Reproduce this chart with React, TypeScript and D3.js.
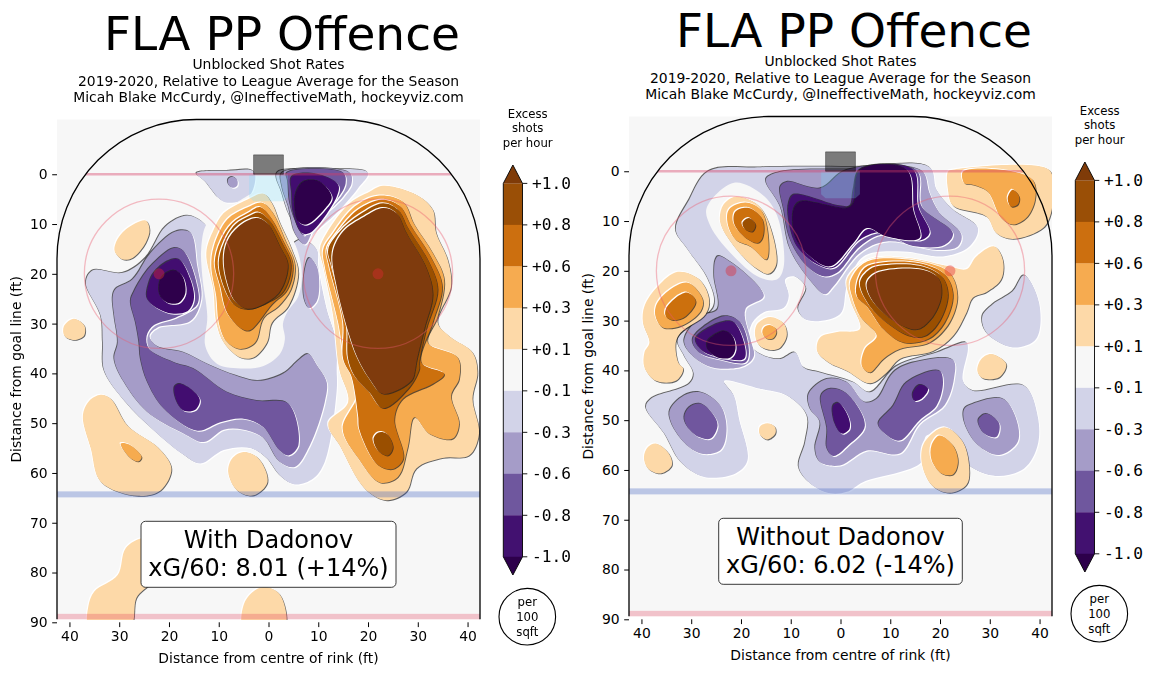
import React, { useEffect, useRef } from 'react';
import * as d3 from 'd3';

type Pt = [number, number];

// colour per contour band, low to high
const bandColors: Record<string, string> = {
  m5: '#2d004b',
  m4: '#421170',
  m3: '#6f579e',
  m2: '#a59cc8',
  m1: '#d2d3e8',
  zero: '#f7f7f7',
  p1: '#fdd9a8',
  p2: '#f6ab50',
  p3: '#cc6f0f',
  p4: '#9a4f06',
  p5: '#7f3b08',
};

const barBands = ['p4', 'p3', 'p2', 'p1', 'zero', 'm1', 'm2', 'm3', 'm4'];
const barLabels = ['+1.0', '+0.8', '+0.6', '+0.3', '+0.1', '-0.1', '-0.3', '-0.6', '-0.8', '-1.0'];
const yTicks = [0, 10, 20, 30, 40, 50, 60, 70, 80, 90];
const xTicks = [-40, -30, -20, -10, 0, 10, 20, 30, 40];
const subtitleLines = [
  'Unblocked Shot Rates',
  '2019-2020, Relative to League Average for the Season',
  'Micah Blake McCurdy, @IneffectiveMath, hockeyviz.com',
];

// rink furniture, in feet
const crease: Pt[] = [[-3.9, 0], [3.9, 0], [3.9, 4.6], [3, 5.4], [-3, 5.4], [-3.9, 4.6]];
const goalBox: Pt[] = [[-3, -3.9], [3, -3.9], [3, 0], [-3, 0]];
const faceoffDots: Pt[] = [[-22, 20], [22, 20]];

// ---- With Dadonov contours, feet from centre / goal line ----
const withM1: Pt[][] = [
  [[-14.5, -0.2], [-8.3, -0.7], [-2.9, -0.5], [-3.9, 4.5], [-8.3, 5.7], [-10, 4.8], [-12.7, 1.5]],
  [[1.7, -0.3], [9.7, -0.9], [20, -0.3], [18, 2.8], [13.7, 7.8], [9, 12.1], [7.7, 14.1], [4.3, 8.5], [2.7, 3.8]],
  [[-36.7, 21.8], [-35.3, 19.3], [-29.3, 19.8], [-24.7, 16.8], [-20.7, 10.5], [-16.3, 8.3], [-12.7, 10.1], [-11.7, 12.5], [-3.7, 12.5], [3, 15.1], [6.5, 13.1], [9.7, 15.1], [10, 18.5], [11.7, 27.1], [13.7, 33.8], [13.7, 39.1], [13.7, 43.5], [11.3, 57.8], [9, 61.1], [5.3, 62.3], [2.3, 60.5], [-0.3, 57.1], [-3.7, 55], [-9, 55.4], [-13.7, 58.1], [-17, 56.4], [-23, 51.5], [-28.7, 45.8], [-33, 39.5], [-33.3, 33.8], [-33.7, 28.5]],
];
const withZero: Pt[][] = [
  [[6, 24.5], [3.7, 27.8], [2.9, 30.1], [3.3, 33.1], [2.3, 36.1], [-1, 38.5], [-5, 39], [-10.3, 38.1], [-12.7, 34.5], [-12.3, 28.5], [-13.3, 20.5], [-13.5, 14.5], [-12.3, 9.8], [-7.7, 6.5], [-1, 3.1], [1, 4.6], [3.3, 9.8], [6, 15.8], [6.7, 20.5]],
];
const withM2: Pt[][] = [
  [[-7.3, 0.5], [-6.3, 1.1], [-6.3, 2.3], [-7.3, 2.7], [-8.1, 1.9], [-8.1, 1]],
  [[2.7, -0.3], [16.3, -0.3], [16.7, 1.8], [15, 4.5], [9.7, 9.8], [7.3, 14.1], [5.3, 11.8], [4, 6.5], [2.7, 2.5]],
  [[8.2, 16.8], [9.7, 18.5], [10.2, 22.5], [9.7, 25.5], [8.2, 26.9], [7.2, 25.1], [7.2, 19.8]],
  [[-31.3, 24.5], [-30.7, 23], [-27.3, 21.1], [-23.7, 15.8], [-18.7, 11.5], [-15.7, 11.7], [-14.3, 18.5], [-13.5, 25.1], [-15.7, 29.5], [-22.3, 30.8], [-23.9, 32.5], [-22.3, 34.6], [-17, 35.8], [-12.3, 38.1], [-6.3, 40.5], [-2, 41.5], [3, 40], [6.3, 37.1], [8, 36.1], [10, 38.8], [11.7, 41.8], [11.3, 45.8], [8.3, 54.5], [5.3, 58.8], [2.3, 57.8], [-1, 53], [-5, 51.3], [-9, 51.3], [-13, 53.8], [-17, 52.1], [-24.3, 47.8], [-29, 41.8], [-31, 37.1], [-30.3, 33.8], [-31, 28.5]],
];
const withM3: Pt[][] = [
  [[3.7, -0.3], [15, -0.3], [15.5, 1.8], [13.7, 5.1], [8.3, 10.1], [7.1, 12.3], [5.3, 9.1], [4.3, 5.8], [3.9, 1.5]],
  [[-27.7, 25.5], [-27, 23.5], [-23.7, 18.5], [-19, 14.8], [-17, 15.5], [-14.3, 22.5], [-14.3, 26.1], [-18.7, 28.8], [-23, 30.3], [-24.5, 32.5], [-24, 35.1], [-19, 37.8], [-15, 39.1], [-8.3, 43.8], [-2.3, 45.5], [4, 46.1], [6, 54.5], [4, 56.5], [2.3, 55.5], [-1, 50.8], [-5, 49.1], [-9.7, 49.8], [-14.3, 51.5], [-21, 47.1], [-24.3, 41.8], [-25.7, 37.1], [-26, 33.8], [-26.7, 29.8]],
];
const withM4: Pt[][] = [
  [[-24, 21.8], [-24.3, 25.1], [-20.3, 27.8], [-16.3, 27.5], [-15, 25.1], [-15.7, 21.1], [-18, 17.1], [-20.3, 17.5], [-23, 19.8]],
  [[-18.9, 42.8], [-18, 42.1], [-15.7, 43.1], [-13.8, 45.3], [-14.7, 47.3], [-17, 47.5], [-18.5, 45.5]],
  [[4.7, 0.5], [9.7, 0], [14, 2.1], [13.7, 4.5], [8.3, 11.8], [6.7, 11.8], [5, 7.8], [4.7, 3.8]],
];
const withM5: Pt[][] = [
  [[-22, 22.5], [-21.3, 20.5], [-19, 19.3], [-17.3, 20.5], [-16.7, 23.8], [-18, 25.8], [-20.3, 25.8], [-21.7, 24.5]],
  [[5.5, 3.8], [7, 1.5], [10.3, 1.5], [12.7, 4.5], [11.7, 6.5], [7.7, 10.1], [6, 9.5], [5.3, 6.5]],
];
const withP1: Pt[][] = [
  [[-30.7, 13.8], [-28.7, 11.1], [-24.7, 9.3], [-23.9, 11.1], [-24.7, 13.8], [-27.3, 16.8], [-29.3, 17.1], [-30.9, 15.5]],
  [[-39.1, 29], [-37, 30.4], [-37.1, 32.5], [-39, 33.3], [-41, 32.5], [-41.1, 30.5]],
  [[-1, 3.9], [0.7, 5.8], [2.3, 9.8], [4.7, 15.1], [6, 19.8], [4, 26.5], [0.7, 29.8], [-0.3, 33.8], [-3, 36.8], [-5.7, 36.8], [-9, 33.8], [-10.5, 29.8], [-11.1, 23.1], [-12.5, 15.8], [-11, 11.1], [-9, 7.8], [-4.3, 5.1]],
  [[23, 2.3], [29.7, 4.1], [33, 7.1], [33.7, 11.8], [36, 17.1], [36.7, 22.5], [34, 29.8], [36.3, 32.5], [41, 35.8], [42, 39.8], [41, 45.1], [42.3, 52.1], [40.3, 56.5], [35, 57], [29.7, 59.1], [27.7, 63.8], [23.7, 65.5], [19.3, 63.1], [14.3, 54.5], [12, 50.1], [16, 45.8], [14.2, 39.1], [13, 28.5], [11, 18.5], [10.3, 15.1], [11.7, 11.8], [16.3, 5.8], [20.3, 3.5]],
  [[-33.7, 44.3], [-31.7, 45.1], [-28.3, 50.5], [-22.3, 54.8], [-19.5, 59.1], [-21.7, 63.5], [-26.3, 64.6], [-33.7, 61.8], [-35.7, 55.1], [-37.3, 48.5], [-36, 45.5]],
  [[-5, 55.8], [-2, 57.1], [-0.2, 61.8], [-3, 64.5], [-6.3, 63.5], [-8.1, 59.8], [-7.3, 57.1]],
  [[-25.3, 73.1], [-28.7, 75.1], [-30.3, 80.5], [-35, 83.8], [-36.2, 86.8], [-36, 91], [-27.8, 91], [-26.5, 85], [-24, 82.5], [-22, 80], [-23, 74]],
  [[-1, 82.9], [1.7, 83.8], [3.2, 86.5], [3.2, 91], [-5, 91], [-5, 86.5], [-3.3, 84]],
];
const withP2: Pt[][] = [
  [[-29.7, 54.1], [-28, 54.3], [-25.5, 56.8], [-26.2, 57.7], [-28, 56.8]],
  [[-1.3, 5.7], [0.7, 7.5], [3.3, 13.1], [5.3, 18.1], [4.5, 23.1], [2, 26.5], [-1, 28.8], [-2.7, 33.8], [-5.7, 35.1], [-8.5, 33.5], [-10, 29.8], [-10.5, 24.5], [-11.5, 18.5], [-11, 14.5], [-8.3, 9.1], [-4.3, 6.7]],
  [[22, 4.3], [27, 5.5], [29.3, 10.1], [33, 15.8], [35.3, 21.1], [34, 28.5], [32, 33.8], [38, 36.8], [38.3, 41.1], [36.7, 44.5], [38.3, 50.1], [37, 53.1], [32.3, 52.1], [29.3, 48.8], [28, 54.8], [26, 60.8], [22.3, 61.9], [18, 57], [14.9, 51.1], [18, 43.8], [15.3, 37.1], [14, 29.8], [11.3, 18.5], [11, 15.1], [13, 11.8], [17.3, 6.5]],
];
const withP3: Pt[][] = [
  [[-1.7, 6.6], [0.3, 8.5], [3, 13.5], [4.9, 18.1], [3.8, 23.1], [0.7, 26.1], [-3.7, 31.3], [-5.3, 31.1], [-8.3, 27.8], [-9.7, 22.5], [-10.8, 17.8], [-9.7, 13.5], [-7.3, 9.8], [-4, 7.7]],
  [[22.7, 5.1], [26.3, 6.3], [28.7, 10.5], [32.7, 16.8], [34.9, 22.5], [33, 29.8], [30.7, 37.8], [35.3, 40.1], [33, 42.1], [27, 45.1], [25.3, 49.1], [27.1, 57.1], [25, 59.2], [22, 58.4], [18.3, 51.4], [18, 48.5], [16.7, 40.7], [15, 37.1], [15, 29.8], [12.2, 18.5], [11.7, 15.1], [13.7, 11.8], [18, 7.1]],
];
const withP4: Pt[][] = [
  [[-2, 7.7], [0, 9.1], [2.7, 13.8], [4.5, 18.1], [3, 23.5], [-0.3, 25.8], [-4.3, 27.1], [-7, 26.1], [-9, 22.5], [-10, 17.8], [-9, 13.8], [-6.7, 10.1], [-3.7, 8.3]],
  [[23, 5.8], [26, 7.1], [28, 10.8], [32.3, 17.8], [34, 23.1], [31.7, 31.1], [30.3, 37.8], [30.3, 39.1], [28.3, 42.8], [23, 47], [20.3, 43.8], [17.3, 40.5], [16, 37.1], [15.7, 29.8], [12.7, 18.5], [12, 15.1], [14.3, 11.5], [18.3, 8.1]],
  [[22, 51.9], [23.7, 52.1], [25, 54.8], [24, 56.5], [22, 55.5], [21.1, 53.1]],
];
const withP5: Pt[][] = [
  [[-2.5, 8.8], [-0.3, 9.8], [2.3, 14.5], [3.9, 18.1], [2.3, 23.5], [-1, 26.1], [-4.3, 27], [-6.7, 25.5], [-8.3, 21.8], [-9, 17.1], [-8.3, 13.5], [-6, 10.5]],
  [[23, 6.8], [25.7, 7.8], [27.7, 11.8], [31.7, 18.8], [33, 24.1], [31.3, 31.1], [29.7, 37.8], [29.5, 39.1], [28.7, 41.5], [23, 44.1], [20.3, 41.1], [18, 37.1], [16.3, 32.5], [13.7, 22.5], [12.9, 15.8], [15, 11.5], [19.3, 8.5]],
];

// ---- Without Dadonov contours ----
const withoutM1: Pt[][] = [
  [[-26.6, 0], [-16.1, -0.8], [2.6, -0.9], [17.9, -0.8], [19.3, 3.7], [22.6, 7.7], [27.6, 11.4], [25.9, 15.1], [20.6, 17.1], [12.6, 16.1], [4.6, 17.1], [1.3, 23.1], [-0.1, 28.7], [-6.7, 29.9], [-8.5, 27.7], [-6.9, 23.4], [-9.4, 21.1], [-11.1, 21.7], [-10.4, 25.1], [-11.4, 27.4], [-15.4, 28.3], [-17.7, 30.4], [-18.4, 34.4], [-16.1, 36.7], [-12.1, 37.7], [-9.1, 36.4], [-7.4, 39.4], [-4.1, 40.4], [2.6, 42.4], [5.9, 44.4], [11.3, 39.1], [19.3, 36.4], [25.3, 34.4], [25.6, 35.7], [24.6, 42.1], [26.6, 44.1], [36.9, 43.1], [39.6, 49.1], [39.6, 55.1], [36.9, 59.7], [31.3, 61.2], [25.9, 59.1], [22.6, 53.7], [17.3, 53.1], [16.3, 58.4], [4.6, 62.4], [1.3, 64.4], [-2.1, 64.7], [-6.1, 62.7], [-8.4, 59.4], [-7.1, 54.4], [-6.7, 49.1], [-10.7, 45.1], [-16.1, 43.7], [-23.4, 42.1], [-21.4, 45.1], [-20.4, 49.7], [-18.7, 58.1], [-21.1, 60.7], [-27.4, 61.4], [-32.1, 58.4], [-35.4, 52.7], [-39.1, 47.4], [-38.1, 45.7], [-30.4, 42.7], [-29.5, 40.7], [-31.4, 37.1], [-32.7, 33.7], [-25.4, 27.1], [-26.6, 21.7], [-30.7, 15.7], [-33.1, 11.7], [-30.4, 5.7]],
  [[36.9, 20.9], [39.9, 26.4], [39.3, 33.7], [34.6, 35.4], [29.3, 32.4], [28.5, 29.1], [30.6, 26.7], [34.6, 24.1]],
];
const withoutZero: Pt[][] = [
  [[-26.9, 7.4], [-21.4, 2.3], [-15.7, 4.7], [-12.7, 9], [-11.4, 19.1], [-12.7, 21.7], [-16.1, 21.4], [-22.1, 16.4], [-26.1, 11.1]],
];
const withoutM2: Pt[][] = [
  [[-14.9, 1.4], [-12.1, 0.1], [2.6, -0.4], [16.3, -0.1], [17.9, 4.4], [19.9, 8.4], [24.3, 12.7], [23.6, 15.1], [19.3, 15.8], [9.3, 14.1], [3.9, 16.4], [-1.4, 23.1], [-3.1, 24.7], [-5.7, 22.4], [-10.1, 15.7], [-12.1, 7.1], [-14.9, 2.4]],
  [[-25.1, 17.7], [-24.4, 17], [-15.4, 25], [-19.1, 27.7], [-18.1, 33.7], [-17.4, 37.1], [-19.4, 39.1], [-26.7, 39.1], [-31.4, 34.4], [-28.1, 29.1], [-24.7, 27.7], [-25.4, 21]],
  [[-34.4, 48.4], [-31.4, 45], [-28.1, 44.4], [-24.1, 47.1], [-22.9, 51.7], [-24.1, 56], [-28.1, 56.7], [-32.1, 53.7]],
  [[-6.4, 44.7], [-2.7, 41.7], [1.3, 42.4], [4.9, 46.4], [7.3, 45.7], [10.6, 40.4], [14.6, 38.4], [22.6, 37.9], [22.8, 41.7], [20.9, 47], [15.9, 50.7], [11.9, 56.7], [5.3, 56.1], [-0.1, 59.1], [-4.1, 58.4], [-5.1, 55.7], [-4.1, 50.4], [-6.1, 47.7]],
  [[24.9, 47.7], [26.6, 46.7], [32.6, 45.7], [35.3, 49.7], [35.6, 54.4], [31.9, 57], [27.6, 55], [24.9, 50.4]],
];
const withoutM3: Pt[][] = [
  [[-12.1, 3.1], [-10.7, 2.1], [-4.1, 3.4], [1.3, -0.3], [15.3, -0.1], [16.3, 7.1], [22.6, 12.5], [20.9, 14.8], [14.6, 15], [8.6, 12.7], [3.9, 15.1], [-0.7, 20.4], [-3.4, 21.1], [-6.7, 19.1], [-10.1, 13.7], [-11.4, 7.7]],
  [[-29.7, 33.7], [-23.4, 29.1], [-20.1, 30.4], [-18.4, 36.4], [-19.1, 38.4], [-24.7, 37.7], [-28.4, 36.4]],
  [[-31.4, 49.4], [-30.4, 47.4], [-28.1, 46.7], [-25.7, 48.7], [-24.7, 51], [-26.1, 53.7], [-28.4, 53.4], [-30.7, 51.4]],
  [[-3.9, 45.1], [-2.1, 43.7], [1.3, 44.7], [4.9, 51.1], [1.6, 55], [-1.4, 57.2], [-2.7, 55.7], [-2.7, 51.7]],
  [[7.6, 50.7], [10.6, 47.1], [13.3, 42.4], [19.9, 40.1], [20.6, 42.4], [19.3, 47.1], [15.9, 50], [11.9, 54.1], [9.3, 53]],
  [[27.7, 50], [29.3, 48.7], [31.9, 50.7], [31.3, 53.4], [28.9, 52.7]],
];
const withoutM4: Pt[][] = [
  [[-10.4, 6.4], [-9.4, 4.7], [-0.1, 7], [1.9, 7], [2.6, 3.7], [3.9, -0.3], [14.6, -0.3], [15.6, 7.1], [17.9, 12.4], [15.9, 13.9], [8.6, 12.1], [3.9, 13.7], [-1.4, 19.4], [-4.7, 18.7], [-8.7, 15.1], [-10.4, 9.7]],
  [[-29.1, 33.7], [-24.1, 30.4], [-21.4, 30.4], [-19.1, 35.7], [-19.4, 37.7], [-24.1, 37.4], [-27.7, 36.1]],
  [[-1.5, 47.1], [-0.4, 46.5], [1.6, 49.4], [1.8, 51.7], [0.3, 52.7], [-1.1, 50.7]],
  [[14.5, 44.7], [15.9, 42.9], [17.6, 43.7], [16.3, 45.7], [14.9, 46.1]],
];
const withoutM5: Pt[][] = [
  [[-9.4, 7.7], [-8.1, 6.1], [1.3, 7.4], [2.6, 6.4], [3.9, -0.3], [13.3, -0.3], [14.6, 7.7], [15.9, 13.4], [9.3, 13.1], [5.3, 11.4], [2.6, 14.4], [-2.1, 19.1], [-6.1, 17.1], [-9.1, 13.1]],
  [[-26.7, 34.1], [-23.4, 32.1], [-21.7, 33.1], [-21.1, 35.7], [-22.1, 37.4], [-24.7, 37.4], [-26.7, 35.7]],
];
const withoutP1: Pt[][] = [
  [[-39.4, 27.1], [-36.7, 23.1], [-32.7, 20.2], [-28.4, 21.7], [-26.4, 25.7], [-27.1, 28.7], [-32.1, 32.4], [-33.1, 34.4], [-32.6, 38.4], [-31.6, 39.7], [-33.1, 42.1], [-37.1, 42.1], [-39.4, 39.4], [-39.4, 36.4], [-38.4, 34.4], [-39.7, 30.4]],
  [[-21.1, 5.1], [-16.7, 6.7], [-14.4, 10.4], [-12.9, 18.7], [-14.4, 20.6], [-17.1, 19.4], [-21.7, 14.7], [-24.2, 10.1], [-23.5, 6.7]],
  [[-14.1, 29.3], [-11.4, 30.6], [-10.8, 33], [-12.2, 35.5], [-14.1, 35.9], [-16.4, 34.9], [-17.2, 32.5], [-16.6, 30.5]],
  [[5.6, 17.7], [13.3, 17.4], [21.9, 19.1], [25.3, 19.7], [27.3, 17.1], [30.9, 15.1], [32.6, 17.7], [32.3, 21.7], [29.3, 24.3], [26.6, 25.4], [25.3, 28.4], [22.6, 33.1], [18.6, 36.1], [11.9, 37.7], [9.3, 40.4], [5.9, 42.6], [1.3, 40.1], [-2.4, 38.4], [-4.7, 36.1], [-4.1, 33.4], [-0.7, 32.3], [3.9, 31.7], [1.9, 25.7], [1.3, 21.7]],
  [[21.6, 0.1], [22.6, -0.3], [41.9, -0.3], [42.6, 3.7], [42.3, 8.4], [40.7, 11.4], [34.6, 13.6], [31.3, 12.4], [29.3, 9.1], [22.6, 6.9], [21.6, 3.7]],
  [[30.3, 36.7], [33.3, 38.7], [31.9, 41.4], [28.6, 41.6], [27.5, 40.1], [28.3, 37.7]],
  [[-37.1, 54.7], [-34.5, 56.7], [-33.9, 59.1], [-36.1, 60.7], [-38.7, 59.7], [-39.5, 57.4], [-38.7, 55.4]],
  [[-14.7, 50.6], [-13.2, 51.3], [-13.1, 52.7], [-14.7, 53.9], [-16.2, 52.9], [-16.2, 51.3]],
  [[20.9, 51.4], [24.6, 54.4], [25.9, 60.4], [25.3, 63], [21.9, 64.6], [18.3, 63], [16.3, 58.4], [16.9, 54.4]],
];
const withoutP2: Pt[][] = [
  [[-37.1, 27.1], [-34.7, 24.1], [-30.7, 22.4], [-27.7, 25.7], [-28.1, 28.1], [-32.1, 31.1], [-35.7, 31.4], [-37.1, 29.4]],
  [[-19.1, 6.3], [-16.1, 7.7], [-14.7, 11.7], [-14.9, 17.7], [-18.1, 15.1], [-21.1, 13.7], [-22.7, 10.4], [-22.4, 7.7]],
  [[-14.3, 30.9], [-13.1, 31.5], [-12.9, 32.5], [-13.6, 33.6], [-14.9, 33.6], [-15.7, 32.5], [-15.4, 31.4]],
  [[1.9, 22.4], [3.9, 19.1], [6.6, 17.7], [15.9, 18.1], [21.9, 20.4], [23.5, 25.1], [21.9, 30.4], [17.9, 34.4], [11.9, 35.7], [8.6, 37.7], [5.9, 40.4], [4.3, 39.1], [4.9, 35.7], [7.3, 33.1], [3.9, 29.1], [2.3, 25.1]],
  [[24.6, 0.1], [32.3, -0.3], [38.6, 1.7], [39.1, 5.7], [37.3, 9.4], [34.6, 10.7], [32.3, 9.4], [29.6, 4.1], [26.6, 2.7], [24.9, 2.4]],
  [[19.9, 53.1], [22.6, 55.1], [23.6, 58.4], [22.6, 60.9], [20.3, 60.7], [18.3, 58], [18.3, 55]],
];
const withoutP3: Pt[][] = [
  [[-35.1, 27.7], [-33.1, 25.4], [-30.7, 24.4], [-29.1, 26.1], [-31.1, 29.1], [-33.7, 29.9], [-35.1, 29.1]],
  [[-18.4, 7.4], [-15.7, 9.7], [-15.7, 13.4], [-16.7, 14.4], [-19.4, 13.1], [-21.4, 10.4], [-21.1, 8.1]],
  [[3.3, 22.4], [4.9, 19.4], [7.9, 18.4], [15.9, 18.5], [20.9, 20.7], [22.6, 24.7], [20.9, 30.4], [17.6, 33.7], [12.6, 34.4], [8.6, 31.7], [5.3, 27.1], [3.3, 25.1]],
  [[34.6, 3.7], [35.9, 5.1], [35.6, 6.7], [34.3, 7.1], [33.6, 5.4]],
];
const withoutP4: Pt[][] = [
  [[-18.4, 9.4], [-17.1, 10.7], [-17.7, 12.1], [-19.1, 11.7], [-19.7, 10.4]],
  [[3.9, 22.4], [5.9, 19.7], [8.6, 18.9], [15.9, 19], [20.3, 21.1], [21.6, 24.7], [19.9, 30.1], [16.9, 33.1], [13.9, 33.1], [9.3, 30.4], [5.9, 27.1]],
];
const withoutP5: Pt[][] = [
  [[5.3, 22.4], [7.3, 20.4], [15.9, 19.7], [19.6, 21.4], [20.3, 24.7], [18.6, 29.1], [15.6, 31.7], [13.3, 31.4], [8.6, 28.4], [5.9, 25.1]],
];

const withLayers: [string, Pt[][]][] = [
  ['m1', withM1], ['zero', withZero], ['m2', withM2], ['m3', withM3], ['m4', withM4], ['m5', withM5],
  ['p1', withP1], ['p2', withP2], ['p3', withP3], ['p4', withP4], ['p5', withP5],
];
const withoutLayers: [string, Pt[][]][] = [
  ['m1', withoutM1], ['zero', withoutZero], ['m2', withoutM2], ['m3', withoutM3], ['m4', withoutM4], ['m5', withoutM5],
  ['p1', withoutP1], ['p2', withoutP2], ['p3', withoutP3], ['p4', withoutP4], ['p5', withoutP5],
];

const sans = '"DejaVu Sans"';
const mono = '"DejaVu Sans Mono"';

interface IPanel {
  id: string;
  dx: number;
  dy: number;
  layers: [string, Pt[][]][];
  boxLines: string[];
  boxWidth: number;
}

const panels: IPanel[] = [
  { id: 'with', dx: 0, dy: 0, layers: withLayers, boxLines: ['With Dadonov', 'xG/60: 8.01 (+14%)'], boxWidth: 255 },
  { id: 'without', dx: 572, dy: -3, layers: withoutLayers, boxLines: ['Without Dadonov', 'xG/60: 6.02 (-14%)'], boxWidth: 243.6 },
];

const drawPanel = (root: d3.Selection<SVGSVGElement, unknown, null, undefined>, panel: IPanel) => {
  const svg = root.append('g').attr('transform', `translate(${panel.dx}, ${panel.dy})`);

  const x = d3.scaleLinear().domain([-42.5, 42.5]).range([57, 480]);
  const y = d3.scaleLinear().domain([-11, 90]).range([119.5, 622.3]);
  const bottom = 89.4;

  const clipId = `clip-${panel.id}`;
  svg
    .append('clipPath')
    .attr('id', clipId)
    .append('rect')
    .attr('x', x(-42.5))
    .attr('y', y(-11))
    .attr('width', x(42.5) - x(-42.5))
    .attr('height', y(bottom) - y(-11));

  const softId = `soft-${panel.id}`;
  svg
    .append('filter')
    .attr('id', softId)
    .append('feGaussianBlur')
    .attr('stdDeviation', 0.35);

  svg
    .append('rect')
    .attr('x', x(-42.5))
    .attr('y', y(-11))
    .attr('width', x(42.5) - x(-42.5))
    .attr('height', y(bottom) - y(-11))
    .attr('fill', bandColors.zero);

  const blob = d3
    .line<Pt>()
    .x((d) => x(d[0]))
    .y((d) => y(d[1]))
    .curve(d3.curveCatmullRomClosed.alpha(0.5));
  const straight = d3
    .line<Pt>()
    .x((d) => x(d[0]))
    .y((d) => y(d[1]))
    .curve(d3.curveLinearClosed);

  const contours = svg
    .append('g')
    .attr('clip-path', `url(#${clipId})`)
    .append('g')
    .attr('filter', `url(#${softId})`);

  // hillshade: light on the uphill side, dark on the downhill one
  panel.layers.forEach(([band, shapes]) => {
    const raised = band[0] === 'p';
    shapes.forEach((shape) => {
      const d = blob(shape) || '';
      if (band !== 'zero') {
        contours
          .append('path')
          .attr('d', d)
          .attr('fill', '#fff')
          .attr('transform', raised ? 'translate(-1, -1)' : 'translate(1, 1)');
        contours
          .append('path')
          .attr('d', d)
          .attr('fill', '#222')
          .attr('fill-opacity', 0.7)
          .attr('transform', raised ? 'translate(0.8, 0.8)' : 'translate(-0.8, -0.8)');
      }
      contours.append('path').attr('d', d).attr('fill', bandColors[band]);
    });
  });

  // rink markings on top
  svg
    .append('path')
    .attr('d', straight(crease) || '')
    .attr('fill', 'rgb(120, 225, 255)')
    .attr('fill-opacity', 0.25);

  svg
    .append('line')
    .attr('x1', x(-36.7))
    .attr('x2', x(36.7))
    .attr('y1', y(0))
    .attr('y2', y(0))
    .attr('stroke', 'rgb(215, 60, 100)')
    .attr('stroke-opacity', 0.4)
    .attr('stroke-width', 2.4);

  svg
    .append('path')
    .attr('d', straight(goalBox) || '')
    .attr('fill', 'rgba(0, 0, 0, 0.5)')
    .attr('stroke', 'rgba(0, 0, 0, 0.35)');

  faceoffDots.forEach(([cx, cy]) => {
    svg
      .append('circle')
      .attr('cx', x(cx))
      .attr('cy', y(cy))
      .attr('r', x(15) - x(0))
      .attr('fill', 'none')
      .attr('stroke', 'rgb(235, 90, 110)')
      .attr('stroke-opacity', 0.4)
      .attr('stroke-width', 1.3);
    svg
      .append('circle')
      .attr('cx', x(cx))
      .attr('cy', y(cy))
      .attr('r', x(1.1) - x(0))
      .attr('fill', 'rgb(225, 40, 50)')
      .attr('fill-opacity', 0.4);
  });

  svg
    .append('rect')
    .attr('x', x(-42.5))
    .attr('width', x(42.5) - x(-42.5))
    .attr('y', y(63.7))
    .attr('height', 6)
    .attr('fill', 'rgb(50, 85, 190)')
    .attr('fill-opacity', 0.3);

  svg
    .append('rect')
    .attr('x', x(-42.5))
    .attr('width', x(42.5) - x(-42.5))
    .attr('y', y(88.3))
    .attr('height', y(bottom) - y(88.3))
    .attr('fill', 'rgb(225, 50, 80)')
    .attr('fill-opacity', 0.27);

  // boards
  const r = x(28) - x(0);
  const boards = d3.path();
  boards.moveTo(x(-42.5), y(bottom));
  boards.lineTo(x(-42.5), y(17));
  boards.arcTo(x(-42.5), y(-11), x(-14.5), y(-11), r);
  boards.lineTo(x(14.5), y(-11));
  boards.arcTo(x(42.5), y(-11), x(42.5), y(17), r);
  boards.lineTo(x(42.5), y(bottom));
  svg
    .append('path')
    .attr('d', boards.toString())
    .attr('fill', 'none')
    .attr('stroke', '#000')
    .attr('stroke-width', 1.3);

  // axes
  const yAxisG = svg.append('g').attr('transform', `translate(${x(-42.5)}, 0)`);
  yAxisG.call(d3.axisLeft(y).tickValues(yTicks).tickSize(4.8).tickPadding(4.5));
  const xAxisG = svg.append('g').attr('transform', `translate(0, ${y(90)})`);
  xAxisG.call(
    d3
      .axisBottom(x)
      .tickValues(xTicks)
      .tickSize(4.8)
      .tickPadding(4.5)
      .tickFormat((d) => `${Math.abs(+d)}`)
  );
  svg.selectAll('.domain').remove();
  svg
    .selectAll('.tick text')
    .style('font-family', sans)
    .style('font-size', '13.9px')
    .attr('fill', '#000');

  svg
    .append('text')
    .attr('x', 268.5)
    .attr('y', 662.5)
    .attr('text-anchor', 'middle')
    .style('font-family', sans)
    .style('font-size', '13.9px')
    .text('Distance from centre of rink (ft)');
  svg
    .append('text')
    .attr('transform', `translate(20.5, ${y(39.2)}) rotate(-90)`)
    .attr('text-anchor', 'middle')
    .style('font-family', sans)
    .style('font-size', '13.9px')
    .text('Distance from goal line (ft)');

  // titles
  svg
    .append('text')
    .attr('x', 282)
    .attr('y', 50)
    .attr('text-anchor', 'middle')
    .style('font-family', sans)
    .style('font-size', '47px')
    .text('FLA PP Offence');
  subtitleLines.forEach((line, i) => {
    svg
      .append('text')
      .attr('x', 268.5)
      .attr('y', 69 + i * 16.5)
      .attr('text-anchor', 'middle')
      .style('font-family', sans)
      .style('font-size', '13.9px')
      .text(line);
  });

  // stats box
  svg
    .append('rect')
    .attr('x', 268.5 - panel.boxWidth / 2)
    .attr('y', 521.3)
    .attr('width', panel.boxWidth)
    .attr('height', 66)
    .attr('rx', 4.5)
    .attr('fill', '#fff')
    .attr('stroke', '#222')
    .attr('stroke-width', 0.9);
  panel.boxLines.forEach((line, i) => {
    svg
      .append('text')
      .attr('x', 268.5)
      .attr('y', 548 + i * 28)
      .attr('text-anchor', 'middle')
      .style('font-family', sans)
      .style('font-size', '24px')
      .text(line);
  });

  // colourbar
  const barX = 503.3;
  const barW = 19.2;
  const barY = d3.scalePoint<string>().domain(barLabels).range([183.4, 556.8]);
  const step = barY.step();
  const bar = svg.append('g');
  barBands.forEach((band, i) => {
    bar
      .append('rect')
      .attr('x', barX)
      .attr('y', barY(barLabels[i]) as number)
      .attr('width', barW)
      .attr('height', step + 0.3)
      .attr('fill', bandColors[band]);
  });
  bar
    .append('path')
    .attr('d', `M${barX},183.4L${barX + barW / 2},165L${barX + barW},183.4Z`)
    .attr('fill', bandColors.p5);
  bar
    .append('path')
    .attr('d', `M${barX},556.8L${barX + barW / 2},575L${barX + barW},556.8Z`)
    .attr('fill', bandColors.m5);
  bar
    .append('path')
    .attr(
      'd',
      `M${barX},183.4L${barX + barW / 2},165L${barX + barW},183.4L${barX + barW},556.8L${barX + barW / 2},575L${barX},556.8Z`
    )
    .attr('fill', 'none')
    .attr('stroke', '#000')
    .attr('stroke-width', 0.9);
  barLabels.forEach((label) => {
    const ty = barY(label) as number;
    bar
      .append('line')
      .attr('x1', barX + barW)
      .attr('x2', barX + barW + 4.8)
      .attr('y1', ty)
      .attr('y2', ty)
      .attr('stroke', '#000')
      .attr('stroke-width', 0.9);
    bar
      .append('text')
      .attr('x', 532)
      .attr('y', ty + 5.6)
      .style('font-family', mono)
      .style('font-size', '16.2px')
      .text(label);
  });

  ['Excess', 'shots', 'per hour'].forEach((line, i) => {
    svg
      .append('text')
      .attr('x', 527.7)
      .attr('y', 117.5 + i * 14.8)
      .attr('text-anchor', 'middle')
      .style('font-family', sans)
      .style('font-size', '11.7px')
      .text(line);
  });

  svg
    .append('circle')
    .attr('cx', 527.3)
    .attr('cy', 616.7)
    .attr('r', 28.3)
    .attr('fill', '#fff')
    .attr('stroke', '#000')
    .attr('stroke-width', 1.1);
  ['per', '100', 'sqft'].forEach((line, i) => {
    svg
      .append('text')
      .attr('x', 527.3)
      .attr('y', 606 + i * 14.8)
      .attr('text-anchor', 'middle')
      .style('font-family', sans)
      .style('font-size', '11.7px')
      .text(line);
  });
};

const App: React.FC = () => {
  const svgRef = useRef<SVGSVGElement>(null);

  useEffect(() => {
    if (svgRef.current) {
      const root = d3.select(svgRef.current);
      root.selectAll('*').remove();
      panels.forEach((panel) => drawPanel(root, panel));
    }
  }, []);

  return (
    <svg
      ref={svgRef}
      width={1157}
      height={675}
      style={{ position: 'absolute', left: 0, top: 0, background: '#fff' }}
    />
  );
};

export default App;
